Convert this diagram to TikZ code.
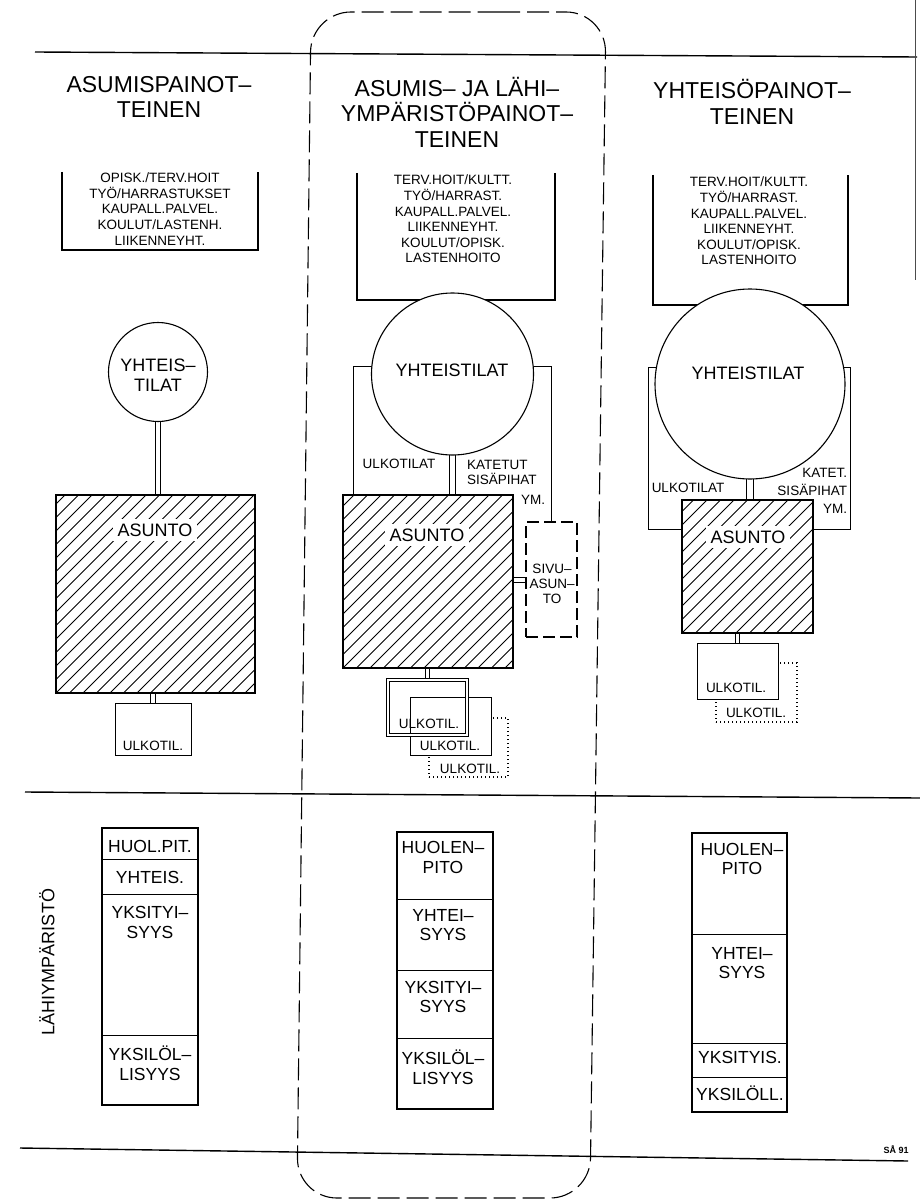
\documentclass[tikz,border=0pt]{standalone}
\usepackage{fontspec}
\setmainfont{Liberation Sans}
\usetikzlibrary{calc,backgrounds}
\newcommand\hdfont{\fontsize{23}{25.5}\selectfont}
\newcommand\smfont{\fontsize{13.5}{15.6}\selectfont}
\newcommand\cifont{\fontsize{18}{20}\selectfont}
\newcommand\stfont{\fontsize{17.5}{19.5}\selectfont}
\newcommand\lbfont{\fontsize{13.5}{15}\selectfont}
\newcommand\lbbfont{\fontsize{13.5}{18}\selectfont}
\newcommand\lhfont{\fontsize{18}{20}\selectfont}
% double connector: outer black stroke, inner white stroke
\newcommand\dconn[3]{%
  \draw[dblout=#3] #1 -- #2;
  \draw[dblin=#3] #1 -- #2;}
\begin{document}
\begin{tikzpicture}[x=1pt,y=-1pt,
  every node/.style={inner sep=0pt, outer sep=0pt},
  rule/.style={line width=1.4pt},
  frame/.style={line width=1.1pt, dash pattern=on 22pt off 7pt},
  ubox/.style={line width=2.4pt},
  circ/.style={circle, draw, fill=white, line width=1.1pt},
  asunto/.style={draw, line width=2.2pt},
  hatch/.style={line width=0.9pt},
  atext/.style={font=\cifont, fill=white, inner sep=5pt},
  thinln/.style={line width=1pt},
  dblout/.style={black, line width=#1+2pt},
  dblin/.style={white, line width=#1},
  ulk/.style={draw, fill=white, line width=1pt},
  ulkd/.style={draw, line width=1.3pt, dash pattern=on 1.4pt off 2.6pt},
  svbox/.style={draw, line width=1.5pt, dash pattern=on 12pt off 5pt},
  cell/.style={draw, line width=1pt},
  stack/.style={draw, line width=1.6pt},
  hd/.style={font=\hdfont, align=center},
  sm/.style={font=\smfont, align=center},
  ci/.style={font=\cifont, align=center},
  st/.style={font=\stfont, align=center},
  lb/.style={font=\lbfont},
]
\useasboundingbox (0,0) rectangle (920,1201);

% rules
\draw[rule] (35,52) -- (917,57);
\draw[rule] (25,792) -- (920,798);
\draw[rule] (20,1148) -- (908,1161);
\draw[line width=0.8pt, black!70] (915,0) -- (915,280);

% dashed frame around middle column
\draw[frame, rounded corners=40] (458,12) -- (606,12) -- (590,1198) -- (297,1198) -- (311,12) -- cycle;

% headings
\node[hd] (h1) at (159,97) {ASUMISPAINOT–\\TEINEN};
\node[hd] (h2) at (457,112) {ASUMIS– JA LÄHI–\\YMPÄRISTÖPAINOT–\\TEINEN};
\node[hd] (h3) at (752,102) {YHTEISÖPAINOT–\\TEINEN};

% service boxes (open top)
\node[minimum width=196, minimum height=78] (ub1) at (160,211) {};
\node[minimum width=198, minimum height=127] (ub2) at (456,236.5) {};
\node[minimum width=195, minimum height=130] (ub3) at (750.5,240) {};
\foreach \b in {ub1,ub2,ub3}
  \draw[ubox] (\b.north west) -- (\b.south west) -- (\b.south east) -- (\b.north east);
\node[sm] (t1) at (160,209) {OPISK./TERV.HOIT\\TYÖ/HARRASTUKSET\\KAUPALL.PALVEL.\\KOULUT/LASTENH.\\LIIKENNEYHT.};
\node[sm] (t2) at (453,219) {TERV.HOIT/KULTT.\\TYÖ/HARRAST.\\KAUPALL.PALVEL.\\LIIKENNEYHT.\\KOULUT/OPISK.\\LASTENHOITO};
\node[sm] (t3) at (749,221) {TERV.HOIT/KULTT.\\TYÖ/HARRAST.\\KAUPALL.PALVEL.\\LIIKENNEYHT.\\KOULUT/OPISK.\\LASTENHOITO};

% common spaces
\node[circ, minimum size=99] (c1) at (158,372) {};
\node[circ, minimum size=162] (c2) at (452.5,374) {};
\node[circ, minimum size=190] (c3) at (750,384) {};
\node[ci] (ct1) at (158,375) {YHTEIS–\\TILAT};
\node[ci] (ct2) at (452,370) {YHTEISTILAT};
\node[ci] (ct3) at (748,373) {YHTEISTILAT};

% dwellings
\node[minimum width=199, minimum height=198] (as1) at (155.5,594) {};
\node[minimum width=170, minimum height=173] (as2) at (428,581.5) {};
\node[minimum width=131, minimum height=133] (as3) at (747.5,566.5) {};
\foreach \b in {as1,as2,as3}{
  \begin{scope}
    \clip (\b.north west) rectangle (\b.south east);
    \foreach \i in {-216,-202.5,...,216}
      \draw[hatch] ($(\b.south west)+(\i,0)$) -- ++(230,-230);
  \end{scope}
  \draw[asunto] (\b.north west) rectangle (\b.south east);
}
\node[atext] (at1) at (155,530) {ASUNTO};
\node[atext] (at2) at (427,535) {ASUNTO};
\node[atext] (at3) at (748,537) {ASUNTO};

% side dwelling
\node[svbox, minimum width=51, minimum height=115] (sv) at (551.5,579.5) {};
\node[font=\lbfont, align=center] (svt) at (552,583.5) {SIVU–\\ASUN–\\TO};

% outdoor spaces
\node[ulk, minimum width=76, minimum height=52] (u1) at (153,729) {};
\node[lb, anchor=base] (u1t) at (153,750) {ULKOTIL.};

\node[ulkd, minimum width=79, minimum height=59] (uC) at (468.5,747.5) {};
\node[lb, anchor=base] (uCt) at (470,773) {ULKOTIL.};
\node[ulk, minimum width=81, minimum height=58] (uB) at (450.5,726) {};
\node[lb, anchor=base] (uBt) at (450,750) {ULKOTIL.};
\node[draw=black, double=white, double distance=2.6pt, line width=1pt, minimum width=79, minimum height=55] (uA) at (427.5,707.5) {};
\node[lb, anchor=base] (uAt) at (429,728) {ULKOTIL.};

\node[ulkd, minimum width=81, minimum height=59] (u3d) at (756.5,692.5) {};
\node[lb, anchor=base] (u3dt) at (756,717) {ULKOTIL.};
\node[ulk, minimum width=81, minimum height=56] (u3) at (737.5,671) {};
\node[lb, anchor=base] (u3t) at (736,692) {ULKOTIL.};

% labels
\node[lb] (l2a) at (399,464) {ULKOTILAT};
\node[font=\lbfont, align=left, anchor=west] (l2b) at (467,472.5) {KATETUT\\SISÄPIHAT};
\node[lb] (l2c) at (533,500) {YM.};
\node[lb] (l3a) at (688,488) {ULKOTILAT};
\node[font=\lbbfont, align=right, anchor=east] (l3b) at (847,491) {KATET.\\SISÄPIHAT\\YM.};

% connectors
\coordinate (k2l) at (353,495);
\coordinate (k3l) at (682,529);
\coordinate (k3r) at (813,529);
\begin{pgfonlayer}{background}
  \dconn{(c1.south)}{(c1.south |- as1.north)}{4.5pt}
  \dconn{(c2.south)}{(c2.south |- as2.north)}{5pt}
  \dconn{(c3.south)}{(c3.south |- as3.north)}{5.5pt}
  \dconn{(u1.north |- as1.south)}{(u1.north)}{3.2pt}
  \dconn{(uA.north |- as2.south)}{(uA.north)}{3.2pt}
  \dconn{(u3.north |- as3.south)}{(u3.north)}{3.2pt}
  \dconn{(as2.east |- sv.west)}{(sv.west)}{4pt}
  \draw[thinln] (c2.175) -| (k2l);
  \draw[thinln] (c2.5) -| (sv.north);
  \draw[thinln] (c3.170) -- ++(-8,0) |- (k3l);
  \draw[thinln] (c3.10) -- ++(6.5,0) |- (k3r);
\end{pgfonlayer}

% neighbourhood label
\node[font=\lhfont, rotate=90] (lh) at (47,962) {LÄHIYMPÄRISTÖ};

% stacks
\node[cell, minimum width=96, minimum height=31] (a1) at (150,843.5) {};
\node[cell, minimum width=96, minimum height=35] (a2) at (150,876.5) {};
\node[cell, minimum width=96, minimum height=141] (a3) at (150,964.5) {};
\node[cell, minimum width=96, minimum height=70] (a4) at (150,1070) {};
\node[stack, minimum width=96, minimum height=277] (sa) at (150,966.5) {};
\node[st] at (150,846) {HUOL.PIT.};
\node[st] at (150,877) {YHTEIS.};
\node[st] at (150,922.5) {YKSITYI–\\SYYS};
\node[st] at (150,1063) {YKSILÖL–\\LISYYS};

\node[cell, minimum width=96, minimum height=67] (b1) at (445,865.5) {};
\node[cell, minimum width=96, minimum height=71] (b2) at (445,934.5) {};
\node[cell, minimum width=96, minimum height=68] (b3) at (445,1004) {};
\node[cell, minimum width=96, minimum height=71] (b4) at (445,1073.5) {};
\node[stack, minimum width=96, minimum height=277] (sb) at (445,970.5) {};
\node[st] at (443,857.5) {HUOLEN–\\PITO};
\node[st] at (443,925) {YHTEI–\\SYYS};
\node[st] at (443,997) {YKSITYI–\\SYYS};
\node[st] at (443,1067) {YKSILÖL–\\LISYYS};

\node[cell, minimum width=95, minimum height=101] (d1) at (739.5,883.5) {};
\node[cell, minimum width=95, minimum height=109] (d2) at (739.5,988.5) {};
\node[cell, minimum width=95, minimum height=34] (d3) at (739.5,1060) {};
\node[cell, minimum width=95, minimum height=35] (d4) at (739.5,1094.5) {};
\node[stack, minimum width=95, minimum height=279] (sd) at (739.5,972.5) {};
\node[st] at (742,859) {HUOLEN–\\PITO};
\node[st] at (742,963) {YHTEI–\\SYYS};
\node[st] at (740,1057) {YKSITYIS.};
\node[st] at (740,1093) {YKSILÖLL.};

% signature
\node[font=\fontsize{9}{10}\selectfont\bfseries] (sig) at (896,1150) {SÅ 91};
\end{tikzpicture}
\end{document}
